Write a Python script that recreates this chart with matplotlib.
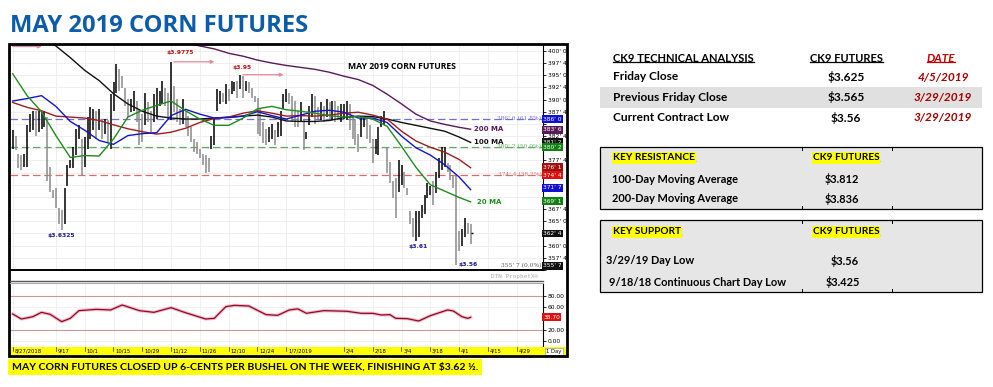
import numpy as np
import matplotlib
matplotlib.use("Agg")
import matplotlib.pyplot as plt
from matplotlib.patches import Rectangle
from matplotlib.lines import Line2D
from matplotlib.transforms import IdentityTransform, blended_transform_factory

W, H = 993, 387

# daily bars, one per business day from 8/27/2018 to 4/5/2019
start_day = "2018-08-27"
bar_high = [3.837, 3.826, 3.789, 3.787, 3.789, 3.847, 3.870, 3.877, 3.877, 3.877,
            3.874, 3.877, 3.864, 3.762, 3.715, 3.718, 3.678, 3.674, 3.718, 3.766,
            3.776, 3.803, 3.840, 3.847, 3.820, 3.823, 3.864, 3.884, 3.881, 3.877,
            3.881, 3.860, 3.860, 3.857, 3.911, 3.935, 3.972, 3.962, 3.948, 3.924,
            3.901, 3.901, 3.918, 3.897, 3.881, 3.870, 3.914, 3.894, 3.877, 3.911,
            3.924, 3.918, 3.938, 3.924, 3.914, 3.9775, 3.928, 3.901, 3.881, 3.901,
            3.877, 3.867, 3.843, 3.820, 3.813, 3.799, 3.789, 3.786, 3.779, 3.826,
            3.860, 3.921, 3.918, 3.914, 3.931, 3.921, 3.938, 3.935, 3.938, 3.951,
            3.948, 3.938, 3.935, 3.924, 3.908, 3.904, 3.881, 3.853, 3.840, 3.843,
            3.850, 3.837, 3.853, 3.877, 3.911, 3.921, 3.914, 3.908, 3.897, 3.877,
            3.894, 3.857, 3.833, 3.887, 3.911, 3.908, 3.884, 3.894, 3.887, 3.901,
            3.894, 3.897, 3.897, 3.887, 3.891, 3.891, 3.897, 3.891, 3.864, 3.857,
            3.830, 3.867, 3.864, 3.860, 3.847, 3.820, 3.820, 3.843, 3.867, 3.877,
            3.803, 3.772, 3.732, 3.739, 3.776, 3.766, 3.752, 3.718, 3.671, 3.657,
            3.671, 3.671, 3.684, 3.705, 3.728, 3.722, 3.732, 3.752, 3.779, 3.803,
            3.803, 3.769, 3.766, 3.745, 3.742, 3.630, 3.634, 3.657, 3.647, 3.644]
bar_low = [3.799, 3.796, 3.759, 3.755, 3.762, 3.762, 3.833, 3.837, 3.826, 3.833,
           3.840, 3.843, 3.732, 3.711, 3.698, 3.678, 3.644, 3.6325, 3.644, 3.722,
           3.759, 3.759, 3.786, 3.820, 3.742, 3.762, 3.799, 3.820, 3.837, 3.820,
           3.837, 3.820, 3.830, 3.813, 3.799, 3.877, 3.914, 3.918, 3.924, 3.887,
           3.864, 3.874, 3.877, 3.853, 3.806, 3.813, 3.847, 3.853, 3.833, 3.853,
           3.860, 3.887, 3.891, 3.887, 3.860, 3.857, 3.874, 3.853, 3.847, 3.850,
           3.843, 3.826, 3.813, 3.793, 3.789, 3.779, 3.766, 3.749, 3.752, 3.799,
           3.806, 3.877, 3.891, 3.894, 3.891, 3.897, 3.911, 3.918, 3.904, 3.921,
           3.904, 3.918, 3.914, 3.904, 3.894, 3.830, 3.826, 3.810, 3.806, 3.813,
           3.820, 3.806, 3.823, 3.826, 3.881, 3.894, 3.891, 3.853, 3.843, 3.843,
           3.853, 3.796, 3.820, 3.847, 3.864, 3.850, 3.860, 3.857, 3.853, 3.864,
           3.857, 3.857, 3.853, 3.857, 3.853, 3.860, 3.857, 3.837, 3.820, 3.806,
           3.793, 3.823, 3.843, 3.820, 3.810, 3.769, 3.789, 3.786, 3.843, 3.847,
           3.749, 3.728, 3.698, 3.657, 3.711, 3.725, 3.718, 3.705, 3.644, 3.617,
           3.610, 3.617, 3.657, 3.664, 3.698, 3.705, 3.684, 3.708, 3.739, 3.755,
           3.762, 3.752, 3.735, 3.718, 3.560, 3.590, 3.600, 3.617, 3.624, 3.603]
last_close = 3.625

# moving averages, read every 5 sessions
ma_days = list(range(0, 160, 5)) + [159]
ma20 = [3.953, 3.908, 3.875, 3.826, 3.781, 3.785, 3.784, 3.819, 3.864, 3.878, 3.888,
        3.897, 3.877, 3.860, 3.847, 3.847, 3.862, 3.881, 3.886, 3.879, 3.876, 3.872,
        3.867, 3.864, 3.865, 3.860, 3.845, 3.804, 3.761, 3.725, 3.712, 3.699, 3.690]
ma40 = [3.897, 3.902, 3.908, 3.886, 3.855, 3.837, 3.816, 3.808, 3.826, 3.830, 3.832,
        3.867, 3.880, 3.870, 3.862, 3.863, 3.866, 3.875, 3.867, 3.860, 3.868, 3.876,
        3.878, 3.874, 3.862, 3.862, 3.853, 3.825, 3.801, 3.786, 3.766, 3.741, 3.715]
ma50 = [3.894, 3.884, 3.877, 3.866, 3.864, 3.862, 3.857, 3.848, 3.840, 3.834, 3.829,
        3.833, 3.841, 3.853, 3.861, 3.864, 3.872, 3.877, 3.872, 3.866, 3.867, 3.866,
        3.868, 3.872, 3.874, 3.868, 3.860, 3.835, 3.815, 3.802, 3.792, 3.777, 3.760]
ma100 = [4.083, 4.059, 4.035, 4.010, 3.986, 3.960, 3.939, 3.912, 3.891, 3.876, 3.866,
         3.862, 3.860, 3.860, 3.862, 3.864, 3.866, 3.868, 3.864, 3.856, 3.855, 3.855,
         3.857, 3.863, 3.866, 3.865, 3.860, 3.853, 3.847, 3.841, 3.835, 3.823, 3.812]
ma200 = [4.026, 4.017, 4.010, 4.004, 3.995, 3.989, 3.981, 3.975, 3.970, 3.966, 3.962,
         3.956, 3.948, 3.941, 3.929, 3.911, 3.891, 3.870, 3.856, 3.849, 3.843, 3.839]
ma200_days = ma_days[11:]

# fibonacci retracement levels
fib_levels = [3.86, 3.8025, 3.745, 3.55875]
fib_labels = ["386' 0 (61.8%)", "380' 2 (50.0%)", "374' 4 (38.2%)", "355' 7 (0.0%)"]
fib_colors = ["#6f6fd6", "#62aa62", "#d86a6a", "#555555"]

# value flags on the price scale
flag_values = [3.86, 3.8375, 3.8125, 3.8025, 3.76125, 3.745, 3.71875, 3.69125, 3.625, 3.55875]
flag_colors = ["#1010d0", "#5a1a5a", "#111111", "#108010", "#a01010", "#e01010",
               "#1010d0", "#108010", "#111111", "#111111"]

# oscillator (lower panel)
rsi_days = [0, 3, 7, 10, 13, 17, 20, 23, 29, 34, 38, 44, 49, 55, 60, 67, 70, 74, 77, 82,
            88, 92, 96, 99, 102, 108, 116, 121, 125, 128, 131, 133, 137, 141, 145, 151,
            153, 156, 158, 159]
rsi_vals = [47.8, 38.9, 43, 50.7, 47.2, 34.2, 40.1, 53.7, 56, 54.9, 63.7, 53.7, 50.7, 59,
            50.1, 38.9, 40.1, 60.7, 63.1, 61.9, 46.6, 45.4, 54.9, 56.8, 49, 53.7, 52.6,
            49, 49, 46, 46.6, 40.1, 39.5, 35.4, 44.8, 54.9, 53.1, 43, 40.1, 41.9]
rsi_last_label = "38.70"

tick_dates = ["2018-08-27", "2018-09-17", "2018-10-01", "2018-10-15", "2018-10-29",
              "2018-11-12", "2018-11-26", "2018-12-10", "2018-12-24", "2019-01-07",
              "2019-02-04", "2019-02-18", "2019-03-04", "2019-03-18", "2019-04-01",
              "2019-04-15", "2019-04-29"]
tick_labels = ["8/27/2018", "9/17", "10/1", "10/15", "10/29", "11/12", "11/26", "12/10",
               "12/24", "1/7/2019", "2/4", "2/18", "3/4", "3/18", "4/1", "4/15", "4/29"]
tick_pos = [int(np.busday_count(start_day, d)) for d in tick_dates]

days = np.arange(len(bar_high))
PX = 2.88           # pixels per session
X0 = 12.7           # pixel of first bar


def box(x0, y0, x1, y1):
    return [x0 / W, 1 - y1 / H, (x1 - x0) / W, (y1 - y0) / H]


def day_lim(x0, x1):
    return ((x0 - X0) / PX, (x1 - X0) / PX)


def eighths(v):
    c = v * 100
    whole = int(np.floor(c + 1e-6))
    return f"{whole}' {int(round((c - whole) * 8))}"


fig = plt.figure(figsize=(W / 100, H / 100), dpi=100)
fig.patch.set_facecolor("white")

fig.text(10 / W, 1 - 32 / H, "MAY 2019 CORN FUTURES", family="Open Sans",
         fontweight="bold", fontsize=17.1, color="#0d5cab", va="baseline")

# ---------------- price panel
ax = fig.add_axes(box(10, 45, 543, 270))
ax.set_xlim(*day_lim(10, 543))
ax.set_ylim(3.556, 4.012)
yt = np.arange(3.55, 4.001, 0.025)
# scale labels that sit under a value flag are covered by it
yt_show = [v for v in yt if min(abs(v - f) for f in flag_values) > 0.011]
ax.set_yticks(yt)
ax.set_yticklabels([eighths(v) if v in yt_show else "" for v in yt])
ax.yaxis.tick_right()
ax.tick_params(axis="y", labelsize=4.3, length=2, width=0.6, pad=1.5, direction="out")
ax.set_xticks(tick_pos)
ax.tick_params(axis="x", length=0, labelbottom=False)
ax.grid(True, color="#ececec", lw=0.6)
ax.set_axisbelow(True)
for s in ["left", "top"]:
    ax.spines[s].set_visible(False)
ax.spines["right"].set_linestyle((0, (1, 1)))
ax.spines["right"].set_linewidth(0.8)
ax.spines["bottom"].set_linewidth(1.4)

for lvl, lab, col in zip(fib_levels[:3], fib_labels[:3], fib_colors[:3]):
    ax.axhline(lvl, color=col, lw=0.9, ls=(0, (6, 3)))
yx = blended_transform_factory(ax.transAxes, ax.transData)
for lvl, lab, col in zip(fib_levels, fib_labels, fib_colors):
    ax.text(0.997, lvl, lab, transform=yx, ha="right", va="center", fontsize=4.2,
            color=col, family="DejaVu Serif")

mid = (np.array(bar_high) + np.array(bar_low)) / 2
bar_cols = ["#000000"] + ["#000000" if mid[i] >= mid[i - 1] else "#8a8a8a" for i in range(1, len(mid))]
ax.vlines(days, bar_low, bar_high, colors=bar_cols, lw=1.1)
ax.hlines([last_close], [days[-1]], [days[-1] + 0.7], colors="#000000", lw=1.0)

ax.plot(ma_days, ma100, color="#111111", lw=1.0)
ax.plot(ma200_days, ma200, color="#5a1a5a", lw=1.0)
ax.plot(ma_days, ma50, color="#a01c1c", lw=1.0)
ax.plot(ma_days, ma40, color="#1414c8", lw=1.0)
ax.plot(ma_days, ma20, color="#1f8a1f", lw=1.0)

ax.annotate("200 MA", (ma_days[-1], ma200[-1]), xytext=(3, 0), textcoords="offset pixels",
            fontsize=5, fontweight="bold", color="#5a1a5a", va="center")
ax.annotate("100 MA", (ma_days[-1], ma100[-1]), xytext=(3, 0), textcoords="offset pixels",
            fontsize=5, fontweight="bold", color="#111111", va="center")
ax.annotate("20 MA", (ma_days[-1], ma20[-1]), xytext=(6, 0), textcoords="offset pixels",
            fontsize=5, fontweight="bold", color="#1f8a1f", va="center")

pink = "#e38a9a"
ax.annotate("", xy=(71, 3.9775), xytext=(55, 3.9775),
            arrowprops=dict(arrowstyle="-|>", color=pink, lw=0.9, mutation_scale=5))
ax.annotate("", xy=(95, 3.951), xytext=(79, 3.951),
            arrowprops=dict(arrowstyle="-|>", color=pink, lw=0.9, mutation_scale=5))
ax.annotate("", xy=(11, 4.009), xytext=(-1, 4.009),
            arrowprops=dict(arrowstyle="-|>", color=pink, lw=0.9, mutation_scale=5))

hi_i = int(np.argmax(bar_high))
ax.annotate("$3.9775", (hi_i, bar_high[hi_i]), xytext=(9, 8), textcoords="offset pixels",
            ha="center", fontsize=4.3, fontweight="bold", color="#c01010")
ax.annotate("$3.95", (79, bar_high[79]), xytext=(2, 6), textcoords="offset pixels",
            ha="center", fontsize=4.3, fontweight="bold", color="#c01010")
ax.annotate("$3.6325", (17, bar_low[17]), xytext=(0, -6), textcoords="offset pixels",
            ha="center", va="center", fontsize=4.3, fontweight="bold", color="#1a1a8c")
ax.annotate("$3.61", (140, bar_low[140]), xytext=(2, -6), textcoords="offset pixels",
            ha="center", va="center", fontsize=4.3, fontweight="bold", color="#1a1a8c")
lo_i = int(np.argmin(bar_low))
ax.annotate("$3.56", (lo_i, bar_low[lo_i]), xytext=(12, 1), textcoords="offset pixels",
            ha="center", va="center", fontsize=4.3, fontweight="bold", color="#1a1a8c")

ax.text(0.735, 0.905, "MAY 2019 CORN FUTURES", transform=ax.transAxes, ha="center",
        va="center", fontsize=6.2, fontweight="bold", family="Open Sans")

for v, c in zip(flag_values, flag_colors):
    ax.text(1.0, v, eighths(v), transform=yx, ha="left", va="center", fontsize=4.2,
            color="white", clip_on=False,
            bbox=dict(boxstyle="square,pad=0.25", fc=c, ec="none"))

# ---------------- oscillator panel
rx = fig.add_axes(box(10, 283, 543, 347))
rx.set_xlim(*day_lim(10, 543))
rx.set_ylim(-10.6, 102.6)
rx.set_yticks([0, 20, 60, 80])
rx.set_yticklabels(["0.00", "20.00", "60.00", "80.00"])
rx.yaxis.tick_right()
rx.tick_params(axis="y", labelsize=4.3, length=2, width=0.6, pad=1.5)
rx.set_xticks(tick_pos)
rx.tick_params(axis="x", length=0, labelbottom=False)
rx.grid(True, color="#efefef", lw=0.6)
for s in ["left", "top", "bottom"]:
    rx.spines[s].set_visible(False)
rx.spines["right"].set_linestyle((0, (1, 1)))
rx.spines["right"].set_linewidth(0.8)
rx.axhline(80, color="#c99a9a", lw=0.8)
rx.axhline(20, color="#c99a9a", lw=0.8)
rx.plot(rsi_days, rsi_vals, color="#f2a0b0", lw=2.4, alpha=0.7)
rx.plot(rsi_days, rsi_vals, color="#8a0a2a", lw=0.9)
rx.text(1.0, rsi_vals[-1], rsi_last_label, transform=blended_transform_factory(rx.transAxes, rx.transData),
        ha="left", va="center", fontsize=4.2, color="white", clip_on=False,
        bbox=dict(boxstyle="square,pad=0.25", fc="#e01010", ec="none"))

# ---------------- date strip
dx = fig.add_axes(box(10, 347, 567, 355))
dx.set_xlim(*day_lim(10, 567))
dx.set_ylim(0, 1)
dx.set_facecolor("#ffff00")
dx.set_xticks([])
dx.set_yticks([])
for s in dx.spines.values():
    s.set_visible(False)
for p, lab in zip(tick_pos, tick_labels):
    dx.plot([p, p], [0.55, 1.0], color="#333333", lw=0.5)
    dx.text(p + 0.6, 0.45, lab, fontsize=3.8, va="center", ha="left")
dx.text(188, 0.45, "1 Day", fontsize=3.8, va="center", ha="center",
        bbox=dict(boxstyle="square,pad=0.2", fc="white", ec="#888888", lw=0.4))

fig.text(515 / W, 1 - 276.5 / H, "DTN ProphetX\u00ae", fontsize=4.3, color="#a8a8a8",
         ha="center", va="center", family="DejaVu Sans Mono")
fig.add_artist(Line2D([10 / W, 543 / W], [1 - 281 / H] * 2, color="#555555", lw=1.0))
fig.add_artist(Line2D([10 / W, 543 / W], [1 - 283 / H] * 2, color="#aaaaaa", lw=0.8))
fig.add_artist(Rectangle((9 / W, 1 - 356 / H), 558 / W, 312 / H, fill=False,
                         ec="black", lw=2.0, transform=fig.transFigure))

fig.text(12 / W, 1 - 367 / H,
         "MAY CORN FUTURES CLOSED UP 6-CENTS PER BUSHEL ON THE WEEK, FINISHING AT $3.62 \u00bd.",
         family="Lato", fontweight="bold", fontsize=7.55, va="center",
         bbox=dict(boxstyle="square,pad=0.35", fc="#ffff00", ec="none"))

# ---------------- right hand tables
tf = "Lato"
underline = []


def put(x, y, s, ha="left", color="black", style="normal", ul=False, hl=False, size=8.6):
    kw = {}
    if hl:
        kw["bbox"] = dict(boxstyle="square,pad=0.1", fc="#ffff00", ec="none")
    t = fig.text(x / W, 1 - y / H, s, ha=ha, va="center", family=tf, fontweight="bold",
                 fontsize=size, color=color, style=style, **kw)
    if ul:
        underline.append((t, color))
    return t


fig.add_artist(Rectangle((600 / W, 1 - 108 / H), 382 / W, 21 / H, fc="#e0e0e0", ec="none",
                         transform=fig.transFigure, zorder=0))
put(613, 58, "CK9 TECHNICAL ANALYSIS", ul=True, size=8.0)
put(846, 58, "CK9 FUTURES", ha="center", ul=True, size=8.0)
put(941, 58, "DATE", ha="center", color="#c00000", style="italic", ul=True, size=8.4)
rows = [("Friday Close", "$3.625", "4/5/2019"),
        ("Previous Friday Close", "$3.565", "3/29/2019"),
        ("Current Contract Low", "$3.56", "3/29/2019")]
for k, (a, b, c) in enumerate(rows):
    y = 77 + 20.3 * k
    put(613, y, a)
    put(846, y, b, ha="center")
    put(943, y, c, ha="center", color="#a00000", style="italic")

for (y0, y1) in [(147, 209), (220, 292)]:
    fig.add_artist(Rectangle((600 / W, 1 - y1 / H), 382 / W, (y1 - y0) / H, fc="#e6e6e6",
                             ec="black", lw=0.9, transform=fig.transFigure, zorder=0))
    for xx in [802, 892]:
        fig.add_artist(Line2D([xx / W] * 2, [1 - y0 / H, 1 - (y0 + 3) / H], color="black", lw=0.7))
        fig.add_artist(Line2D([xx / W] * 2, [1 - y1 / H, 1 - (y1 - 3) / H], color="black", lw=0.7))

put(613, 158, "KEY RESISTANCE", ul=True, hl=True, size=7.3)
put(846, 158, "CK9 FUTURES", ha="center", ul=True, hl=True, size=7.3)
put(612, 179, "100-Day Moving Average", size=7.9)
put(842, 179, "$3.812", ha="center", size=7.9)
put(612, 199, "200-Day Moving Average", size=7.9)
put(842, 199, "$3.836", ha="center", size=7.9)
put(613, 232, "KEY SUPPORT", ul=True, hl=True, size=7.3)
put(846, 232, "CK9 FUTURES", ha="center", ul=True, hl=True, size=7.3)
put(606, 261, "3/29/19 Day Low", size=7.9)
put(845, 261, "$3.56", ha="center", size=7.9)
put(609, 282, "9/18/18 Continuous Chart Day Low", size=7.9)
put(843, 282, "$3.425", ha="center", size=7.9)

fig.canvas.draw()
r = fig.canvas.get_renderer()
for t, col in underline:
    bb = t.get_window_extent(r)
    fig.add_artist(Line2D([bb.x0, bb.x1], [bb.y0 + 1.5, bb.y0 + 1.5], color=col, lw=0.9,
                          transform=IdentityTransform()))

fig.savefig("out.png", dpi=100)
